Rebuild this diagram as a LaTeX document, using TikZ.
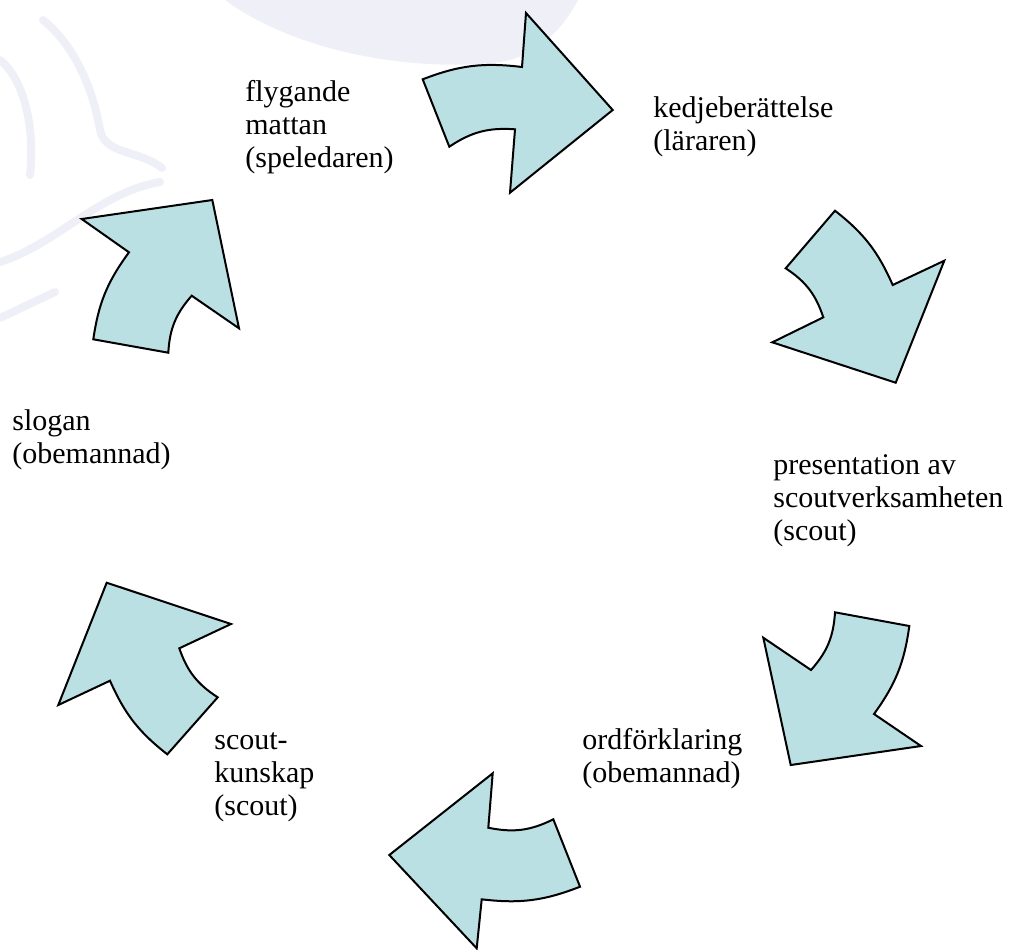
\documentclass[tikz,border=0pt]{standalone}
\usepackage{fontspec}
\setmainfont{Liberation Serif}
\definecolor{arrfill}{RGB}{187,224,227}
\definecolor{wmark}{RGB}{239,240,247}
\tikzset{
  cyc/.style={draw=black,fill=arrfill,line width=1pt,line join=miter},
  outarc/.style={bend left=14},
  inarc/.style={bend right=19},
  lbl/.style={anchor=base west,align=left,inner sep=0pt,font=\fontsize{15}{16.5}\selectfont},
  wm/.style={draw=wmark,line width=4pt,line cap=round}
}

\begin{document}
\begin{tikzpicture}[x=0.5pt,y=-0.5pt]
\useasboundingbox (0,0) rectangle (1015,949);
\fill[wmark] (225,0) .. controls (300,55) and (420,72) .. (500,62) .. controls (540,56) and (565,25) .. (578,0) -- cycle;
\draw[wm] (43,20) .. controls (80,50) and (95,100) .. (100,130) .. controls (105,155) and (140,150) .. (162,168);
\draw[wm] (160,182) .. controls (100,192) and (55,245) .. (0,262);
\draw[wm] (0,60) .. controls (25,80) and (35,130) .. (30,175);
\draw[wm] (0,318) -- (55,292);
\coordinate (A0) at (422.7,79.3);
\coordinate (A1) at (522,67);
\coordinate (A2) at (526,13);
\coordinate (A3) at (612.7,110);
\coordinate (A4) at (510,192.7);
\coordinate (A5) at (515,129.3);
\coordinate (A6) at (449.3,146.7);
\coordinate (B0) at (835,210.7);
\coordinate (B1) at (892.7,285);
\coordinate (B2) at (944.3,260.7);
\coordinate (B3) at (895.7,382.7);
\coordinate (B4) at (772.3,342.3);
\coordinate (B5) at (823.3,317.3);
\coordinate (B6) at (785.7,268.3);
\coordinate (C0) at (909.3,626);
\coordinate (C1) at (874,714);
\coordinate (C2) at (921,746);
\coordinate (C3) at (790.7,765);
\coordinate (C4) at (763.3,637.7);
\coordinate (C5) at (811,670);
\coordinate (C6) at (835,612.3);
\coordinate (D0) at (580,886.7);
\coordinate (D1) at (481.7,899.3);
\coordinate (D2) at (476.7,948.3);
\coordinate (D3) at (389.3,855);
\coordinate (D4) at (492.7,773.3);
\coordinate (D5) at (488.3,827.7);
\coordinate (D6) at (553.3,819.3);
\coordinate (E0) at (167.3,754.3);
\coordinate (E1) at (110,680.7);
\coordinate (E2) at (58.3,705);
\coordinate (E3) at (106.7,582.7);
\coordinate (E4) at (231,624);
\coordinate (E5) at (179.3,648.3);
\coordinate (E6) at (217.7,697.3);
\coordinate (F0) at (93.3,339.3);
\coordinate (F1) at (129,252.3);
\coordinate (F2) at (81.7,219);
\coordinate (F3) at (212.3,200);
\coordinate (F4) at (239,328.3);
\coordinate (F5) at (191.7,295.7);
\coordinate (F6) at (168.3,352.7);
\draw[cyc] (A0) to[outarc] (A1)--(A2)--(A3)--(A4)--(A5) to[inarc] (A6)--cycle;
\draw[cyc] (B0) to[outarc] (B1)--(B2)--(B3)--(B4)--(B5) to[inarc] (B6)--cycle;
\draw[cyc] (C0) to[outarc] (C1)--(C2)--(C3)--(C4)--(C5) to[inarc] (C6)--cycle;
\draw[cyc] (D0) to[outarc] (D1)--(D2)--(D3)--(D4)--(D5) to[inarc] (D6)--cycle;
\draw[cyc] (E0) to[outarc] (E1)--(E2)--(E3)--(E4)--(E5) to[inarc] (E6)--cycle;
\draw[cyc] (F0) to[outarc] (F1)--(F2)--(F3)--(F4)--(F5) to[inarc] (F6)--cycle;
\node[lbl] (flyg) at (245,167) {flygande\\mattan\\(speledaren)};
\node[lbl] (kedje) at (653,150) {kedjeberättelse\\(läraren)};
\node[lbl] (pres) at (773,540) {presentation av\\scoutverksamheten\\(scout)};
\node[lbl] (ordf) at (582,782) {ordförklaring\\(obemannad)};
\node[lbl] (kunskap) at (214,815) {scout-\\kunskap\\(scout)};
\node[lbl] (slogan) at (12,463) {slogan\\(obemannad)};
\end{tikzpicture}
\end{document}
